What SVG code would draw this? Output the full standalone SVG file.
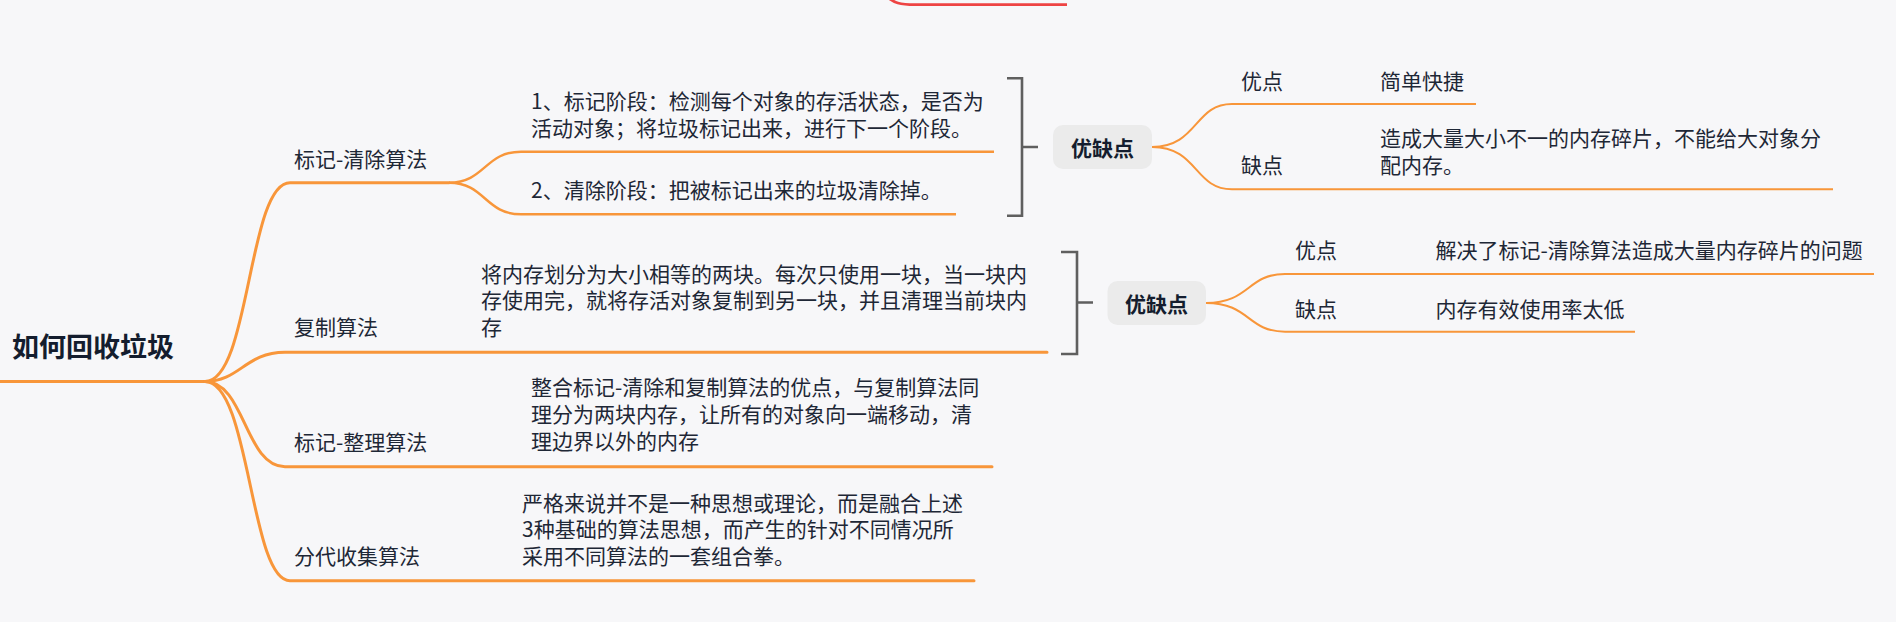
<svg xmlns="http://www.w3.org/2000/svg" width="1896" height="622" viewBox="0 0 1896 622">
<style>
text{font-family:"Noto Sans CJK SC","Noto Sans",sans-serif;fill:#1e2736;font-size:21px}
.root{font-size:27px;font-weight:bold;fill:#141d2e}
.tag{font-weight:bold;fill:#141d2e;text-anchor:middle}
.b{fill:none;stroke:#f8963a;stroke-width:3;stroke-linecap:round}
.c{fill:none;stroke:#f8963a;stroke-width:2.4}
.s{fill:none;stroke:#f8963a;stroke-width:2}
.br{fill:none;stroke:#5f5f5f;stroke-width:2.6}
.box{fill:#ebebeb}
</style>
<rect width="1896" height="622" fill="#f7f7f9"/>
<path d="M886,-4 C894,3 900,4.7 915,4.7 H1067" fill="none" stroke="#ee4444" stroke-width="2.8"/>
<g id="connectors">
<path class="b" d="M0,381.5 H205"/>
<path class="b" d="M205,381.5 C250,381.5 248,182.7 290,182.7 H449"/>
<path class="b" d="M205,381.5 C240,381.5 245,352.3 285,352.3 H1047"/>
<path class="b" d="M205,381.5 C245,381.5 245,466.7 285,466.7 H992"/>
<path class="b" d="M205,381.5 C250,381.5 250,580.7 290,580.7 H974"/>
<path class="c" d="M449,182.7 C485,182.7 485,151.7 521,151.7 H994"/>
<path class="c" d="M449,182.7 C485,182.7 485,214.3 521,214.3 H956"/>
<path class="s" d="M1152,147 C1198,147 1194,104 1232,104 H1476"/>
<path class="s" d="M1152,147 C1198,147 1194,189.3 1232,189.3 H1833"/>
<path class="s" d="M1206,303 C1250,303 1247,274 1285,274 H1874"/>
<path class="s" d="M1206,303 C1250,303 1247,331.7 1285,331.7 H1635"/>
<path class="br" d="M1007,78.3 H1022 V215.7 H1007 M1022,147 H1038"/>
<path class="br" d="M1061,252 H1077 V354 H1061 M1077,302.5 H1093"/>
</g>
<g id="root"><text class="root" x="12" y="357">如何回收垃圾</text></g>
<g id="n-mark-sweep"><text x="294" y="166.5">标记-清除算法</text></g>
<g id="n-mark-sweep-1"><text x="531" y="108.5">1、标记阶段：检测每个对象的存活状态，是否为</text><text x="531" y="135.5">活动对象；将垃圾标记出来，进行下一个阶段。</text></g>
<g id="n-mark-sweep-2"><text x="531" y="198">2、清除阶段：把被标记出来的垃圾清除掉。</text></g>
<g id="n-copy"><text x="294" y="335">复制算法</text></g>
<g id="n-copy-desc"><text x="481" y="281.5">将内存划分为大小相等的两块。每次只使用一块，当一块内</text><text x="481" y="308">存使用完，就将存活对象复制到另一块，并且清理当前块内</text><text x="481" y="334.5">存</text></g>
<g id="n-mark-compact"><text x="294" y="450">标记-整理算法</text></g>
<g id="n-mark-compact-desc"><text x="531" y="395">整合标记-清除和复制算法的优点，与复制算法同</text><text x="531" y="422">理分为两块内存，让所有的对象向一端移动，清</text><text x="531" y="449">理边界以外的内存</text></g>
<g id="n-generational"><text x="294" y="564">分代收集算法</text></g>
<g id="n-generational-desc"><text x="522" y="510.5">严格来说并不是一种思想或理论，而是融合上述</text><text x="522" y="537">3种基础的算法思想，而产生的针对不同情况所</text><text x="522" y="563.5">采用不同算法的一套组合拳。</text></g>
<g id="n-proscons-1"><rect class="box" x="1053" y="125" width="99" height="44" rx="10"/><text class="tag" x="1102.5" y="156">优缺点</text></g>
<g id="n-pro-1"><text x="1241" y="88.5">优点</text></g>
<g id="n-pro-1-desc"><text x="1380" y="88.5">简单快捷</text></g>
<g id="n-con-1"><text x="1241" y="173">缺点</text></g>
<g id="n-con-1-desc"><text x="1380" y="146">造成大量大小不一的内存碎片，不能给大对象分</text><text x="1380" y="173">配内存。</text></g>
<g id="n-proscons-2"><rect class="box" x="1107.5" y="281" width="98.5" height="44" rx="10"/><text class="tag" x="1156.5" y="312">优缺点</text></g>
<g id="n-pro-2"><text x="1295" y="257.5">优点</text></g>
<g id="n-pro-2-desc"><text x="1435.5" y="257.5">解决了标记-清除算法造成大量内存碎片的问题</text></g>
<g id="n-con-2"><text x="1295" y="316.5">缺点</text></g>
<g id="n-con-2-desc"><text x="1435.5" y="316.5">内存有效使用率太低</text></g>
</svg>
